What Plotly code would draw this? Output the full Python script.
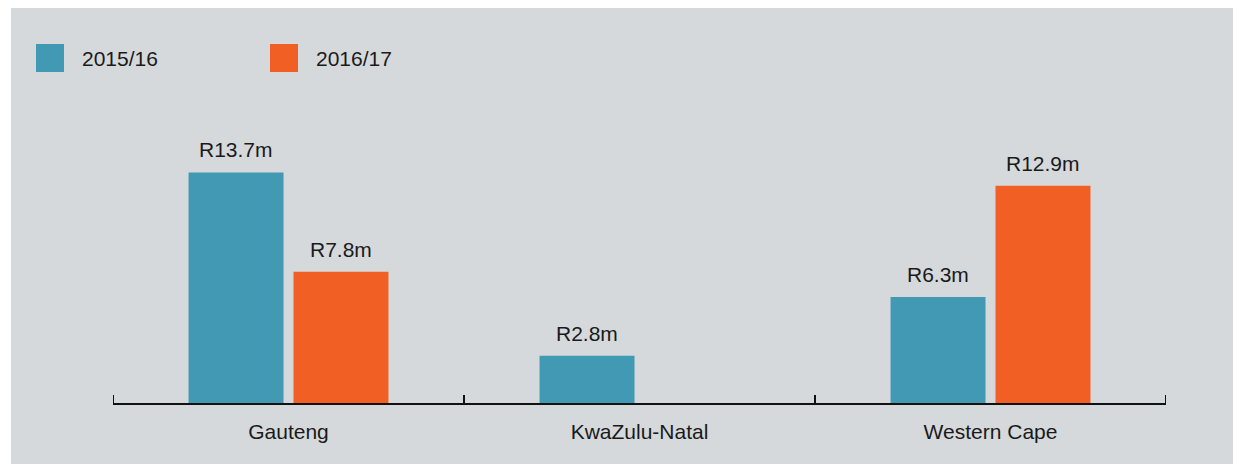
import plotly.graph_objects as go

# Data
provinces = ["Gauteng", "KwaZulu-Natal", "Western Cape"]
series_names = ["2015/16", "2016/17"]
values_2015 = [13.7, 2.8, 6.3]
values_2016 = [7.8, None, 12.9]

COLORS = ["#4299b4", "#f25f24"]
PANEL = "#d5d9dc"
INK = "#1a1a1a"
FONT = "Liberation Sans, Arial, sans-serif"
FSIZE = 21

W, H = 1233, 464
M_L, M_R, M_T, M_B = 113, 67, 100, 61
PW, PH = W - M_L - M_R, H - M_T - M_B

BARGAP, GROUPGAP = 0.402, 0.095


def px_x(x):
    return (x - M_L) / PW


def px_y(y):
    return (H - M_B - y) / PH


def fmt(v):
    return f"R{v}m"


fig = go.Figure()
for name, vals, color in zip(series_names, [values_2015, values_2016], COLORS):
    fig.add_trace(go.Bar(
        x=provinces, y=vals, name=name,
        marker=dict(color=color, line=dict(width=0)),
        showlegend=False,
    ))

shapes = [
    # grey panel behind everything
    dict(type="rect", xref="paper", yref="paper",
         x0=px_x(11), x1=px_x(W + 2), y0=px_y(H + 2), y1=px_y(8),
         fillcolor=PANEL, line=dict(width=0), layer="below"),
]
annotations = []

# value labels above each bar, offset to the bar's slot within its group
slot_px = PW / len(provinces) * (1 - BARGAP) / len(series_names)
for k, vals in enumerate([values_2015, values_2016]):
    shift = (k - (len(series_names) - 1) / 2) * slot_px
    for cat, v in zip(provinces, vals):
        if v is None:
            continue
        annotations.append(dict(x=cat, y=v, xref="x", yref="y", text=fmt(v),
                                showarrow=False, xanchor="center", yanchor="bottom",
                                xshift=shift, yshift=9,
                                font=dict(family=FONT, size=FSIZE, color=INK)))

# category boundary ticks on the baseline
for i in range(len(provinces) + 1):
    shapes.append(dict(type="line", xref="x", yref="paper",
                       x0=i - 0.5, x1=i - 0.5, y0=0, y1=8 / PH,
                       line=dict(color="#111111", width=2)))

# custom legend: large swatches with labels
legend_items = [(36, series_names[0], COLORS[0]), (270, series_names[1], COLORS[1])]
for x0, label, color in legend_items:
    shapes.append(dict(type="rect", xref="paper", yref="paper",
                       x0=px_x(x0), x1=px_x(x0 + 28), y0=px_y(72), y1=px_y(44),
                       fillcolor=color, line=dict(width=0)))
    annotations.append(dict(xref="paper", yref="paper", x=px_x(x0 + 44), y=px_y(58),
                            text=label, showarrow=False, xanchor="left", yanchor="middle",
                            font=dict(family=FONT, size=FSIZE, color=INK)))

fig.update_layout(
    width=W, height=H,
    margin=dict(l=M_L, r=M_R, t=M_T, b=M_B, pad=0),
    paper_bgcolor="white",
    plot_bgcolor="rgba(0,0,0,0)",
    barmode="group",
    bargap=BARGAP,
    bargroupgap=GROUPGAP,
    shapes=shapes,
    annotations=annotations,
    xaxis=dict(
        range=[-0.5, 2.5],
        showline=True, linecolor="#111111", linewidth=2,
        ticks="", showgrid=False, zeroline=False,
        ticklabelstandoff=9,
        tickfont=dict(family=FONT, size=FSIZE, color=INK),
        layer="below traces",
    ),
    yaxis=dict(range=[0, 18], visible=False, showgrid=False, zeroline=False),
    showlegend=False,
)

fig.write_html("out.html")
